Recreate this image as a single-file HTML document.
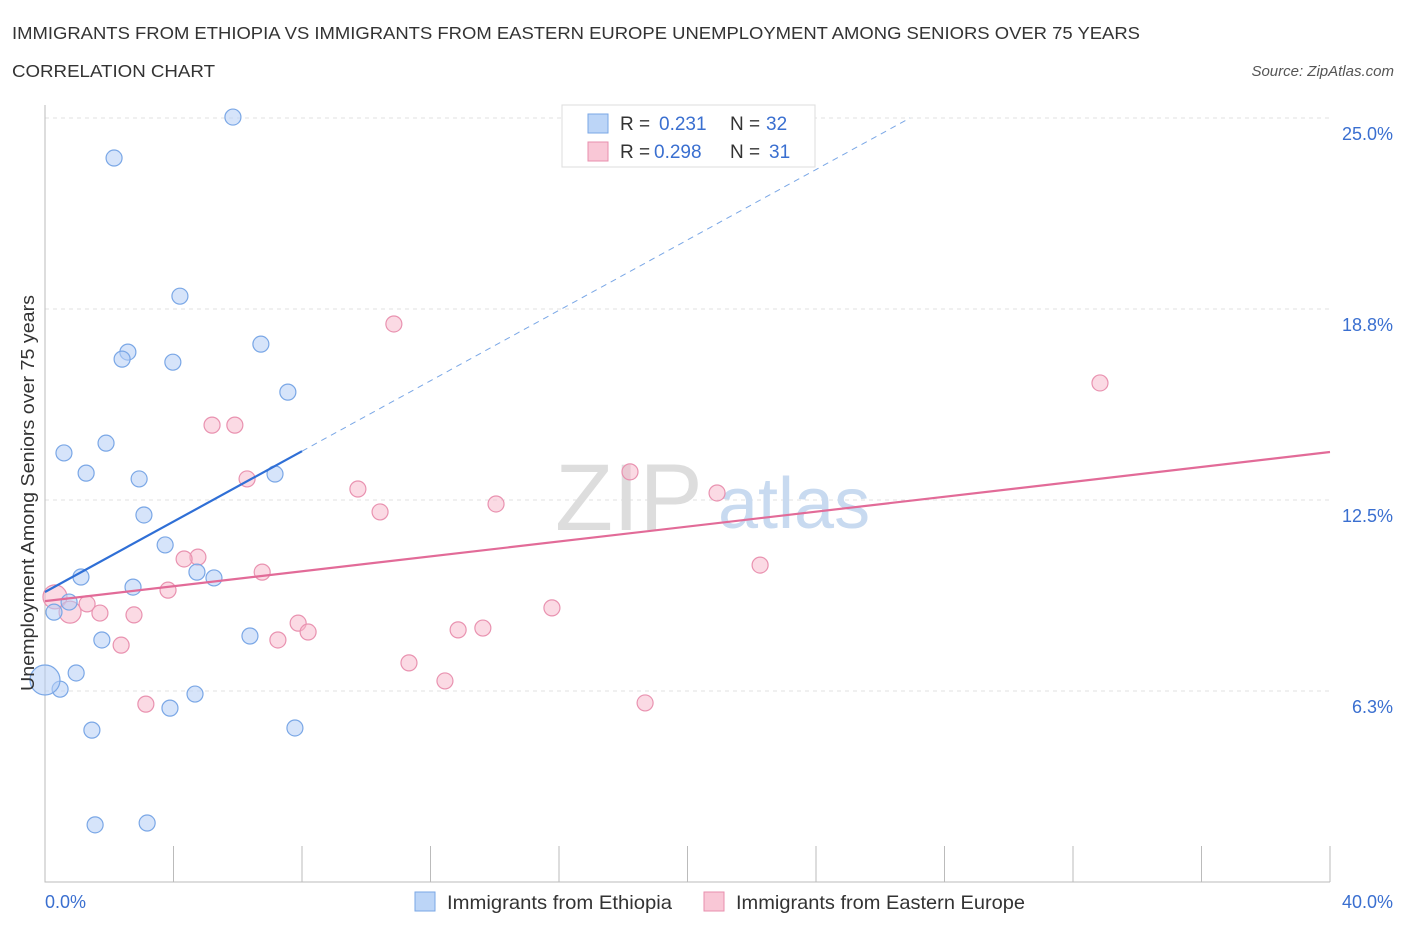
<!DOCTYPE html>
<html><head><meta charset="utf-8"><style>
body{margin:0;background:#fff;font-family:"Liberation Sans",sans-serif;}
svg text{font-family:"Liberation Sans",sans-serif;}
</style></head><body>
<svg width="1406" height="930" viewBox="0 0 1406 930" xmlns="http://www.w3.org/2000/svg">
<text x="12" y="39" font-size="17.5" fill="#333" textLength="1128" lengthAdjust="spacingAndGlyphs">IMMIGRANTS FROM ETHIOPIA VS IMMIGRANTS FROM EASTERN EUROPE UNEMPLOYMENT AMONG SENIORS OVER 75 YEARS</text>
<text x="12" y="77" font-size="17.5" fill="#333" textLength="203" lengthAdjust="spacingAndGlyphs">CORRELATION CHART</text>
<text x="1394" y="76" font-size="15" fill="#555" text-anchor="end" font-style="italic">Source: ZipAtlas.com</text>
<g id="grid"></g>
<g id="axes"></g>
<text x="555" y="530" font-size="95" fill="#ddd" font-family="Liberation Serif">ZIP</text>
<text x="718" y="528" font-size="72" fill="#c8daf0">atlas</text>
<g id="marks"></g>
<text transform="translate(34,493) rotate(-90)" font-size="18.5" fill="#333" text-anchor="middle" textLength="396" lengthAdjust="spacingAndGlyphs">Unemployment Among Seniors over 75 years</text>
<g>
<rect x="562" y="105" width="253" height="62" fill="#fff" stroke="#ddd"/>
<rect x="588" y="114" width="20" height="19" fill="#bcd5f7" stroke="#7aa7e6"/>
<text x="620" y="130" font-size="19" fill="#333">R = </text><text x="659" y="130" font-size="19" fill="#3a6fd0">0.231</text>
<text x="730" y="130" font-size="19" fill="#333">N = </text><text x="766" y="130" font-size="19" fill="#3a6fd0">32</text>
<rect x="588" y="142" width="20" height="19" fill="#f9c7d6" stroke="#e88fae"/>
<text x="620" y="158" font-size="19" fill="#333">R = </text><text x="654" y="158" font-size="19" fill="#3a6fd0">0.298</text>
<text x="730" y="158" font-size="19" fill="#333">N = </text><text x="769" y="158" font-size="19" fill="#3a6fd0">31</text>
</g>
<g>
<rect x="415" y="892" width="20" height="19" fill="#bcd5f7" stroke="#7aa7e6"/>
<text x="447" y="909" font-size="19.5" fill="#333" textLength="225" lengthAdjust="spacingAndGlyphs">Immigrants from Ethiopia</text>
<rect x="704" y="892" width="20" height="19" fill="#f9c7d6" stroke="#e88fae"/>
<text x="736" y="909" font-size="19.5" fill="#333" textLength="289" lengthAdjust="spacingAndGlyphs">Immigrants from Eastern Europe</text>
</g>
</svg>
<script>
const yTicks=[6.25,12.5,18.75,25];
const yTickLabels=["6.3%","12.5%","18.8%","25.0%"];
const xTickLabels=["0.0%","40.0%"];
const blueX=[5.85,2.15,4.20,2.58,2.40,3.98,6.72,7.56,1.90,0.59,1.28,2.93,7.16,3.08,3.74,1.12,4.73,5.26,2.74,0.75,0.28,1.77,6.38,0.97,0.47,4.67,3.89,1.46,7.78,1.56,3.18,0];
const blueY=[25.03,23.69,19.17,17.34,17.11,17.01,17.60,16.03,14.36,14.04,13.38,13.19,13.35,12.01,11.03,9.98,10.14,9.95,9.65,9.16,8.83,7.92,8.05,6.84,6.31,6.15,5.69,4.97,5.04,1.87,1.93,6.61];
const blueR=[8,8,8,8,8,8,8,8,8,8,8,8,8,8,8,8,8,8,8,8,8,8,8,8,8,8,8,8,8,8,8,15];
const pinkX=[10.86,32.84,5.20,5.91,6.29,18.21,9.74,14.04,20.92,10.43,4.76,4.33,22.26,6.76,3.83,0.31,0.78,1.31,1.71,2.77,15.78,7.88,8.19,12.86,13.63,7.25,2.37,11.33,12.45,3.14,18.68];
const pinkY=[18.26,16.33,14.95,14.95,13.19,13.42,12.86,12.37,12.73,12.11,10.63,10.57,10.37,10.14,9.55,9.33,8.83,9.10,8.80,8.74,8.97,8.47,8.18,8.25,8.31,7.92,7.75,7.17,6.58,5.82,5.86];
const pinkR=[8,8,8,8,8,8,8,8,8,8,8,8,8,8,8,12,11,8,8,8,8,8,8,8,8,8,8,8,8,8,8];
const blueTrend=[9.49,0.576];
const pinkTrend=[9.19,0.122];
const NS="http://www.w3.org/2000/svg";
const X=v=>45+v/40*1285, Y=v=>882-v*30.56;
function mk(p,t,a){const e=document.createElementNS(NS,t);for(const k in a)e.setAttribute(k,a[k]);document.getElementById(p).appendChild(e);return e;}
yTicks.forEach((t,i)=>{
 const l=mk('grid','line',{x1:45,x2:1330,y1:Y(t),y2:Y(t),stroke:'#e2e2e2','stroke-dasharray':'4,4'});
 
 
 const tx=mk('grid','text',{x:1393,y:Y(t)+22,'font-size':18,fill:'#3a6fd0','text-anchor':'end'});
 tx.textContent=yTickLabels[i];
 
 
});
const ax=mk('axes','path',{d:'M45,105V882H1330',stroke:'#bbb',fill:'none'});


for(let i=1;i<=10;i++){
 const t=mk('axes','line',{x1:X(i*4),x2:X(i*4),y1:846,y2:882,stroke:'#bbb'});
 
 
}
[[0,'start',45],[1,'end',1393]].forEach(([i,a,x])=>{
 const t=mk('axes','text',{x:x,y:908,'font-size':18,fill:'#3a6fd0','text-anchor':a});
 t.textContent=xTickLabels[i];
 
 
});
pinkX.forEach((v,i)=>{
 const c=mk('marks','circle',{cx:X(v),cy:Y(pinkY[i]),r:pinkR[i],fill:'rgba(247,182,202,0.5)',stroke:'#e992b0','stroke-width':1.2});
 
 
});
blueX.forEach((v,i)=>{
 const c=mk('marks','circle',{cx:X(v),cy:Y(blueY[i]),r:blueR[i],fill:'rgba(180,206,245,0.55)',stroke:'#7aa7e6','stroke-width':1.2});
 
 
});
const bx2=(25-blueTrend[0])/blueTrend[1];
const d=mk('marks','line',{x1:X(8),y1:Y(blueTrend[0]+8*blueTrend[1]),x2:X(bx2),y2:Y(25),stroke:'#7aa7e6','stroke-dasharray':'6,5'});


const b=mk('marks','line',{x1:X(0),y1:Y(blueTrend[0]),x2:X(8),y2:Y(blueTrend[0]+8*blueTrend[1]),stroke:'#2f6fd6','stroke-width':2.2});


const p=mk('marks','line',{x1:X(0),y1:Y(pinkTrend[0]),x2:X(40),y2:Y(pinkTrend[0]+40*pinkTrend[1]),stroke:'#e26b98','stroke-width':2.2});


</script>
</body></html>
